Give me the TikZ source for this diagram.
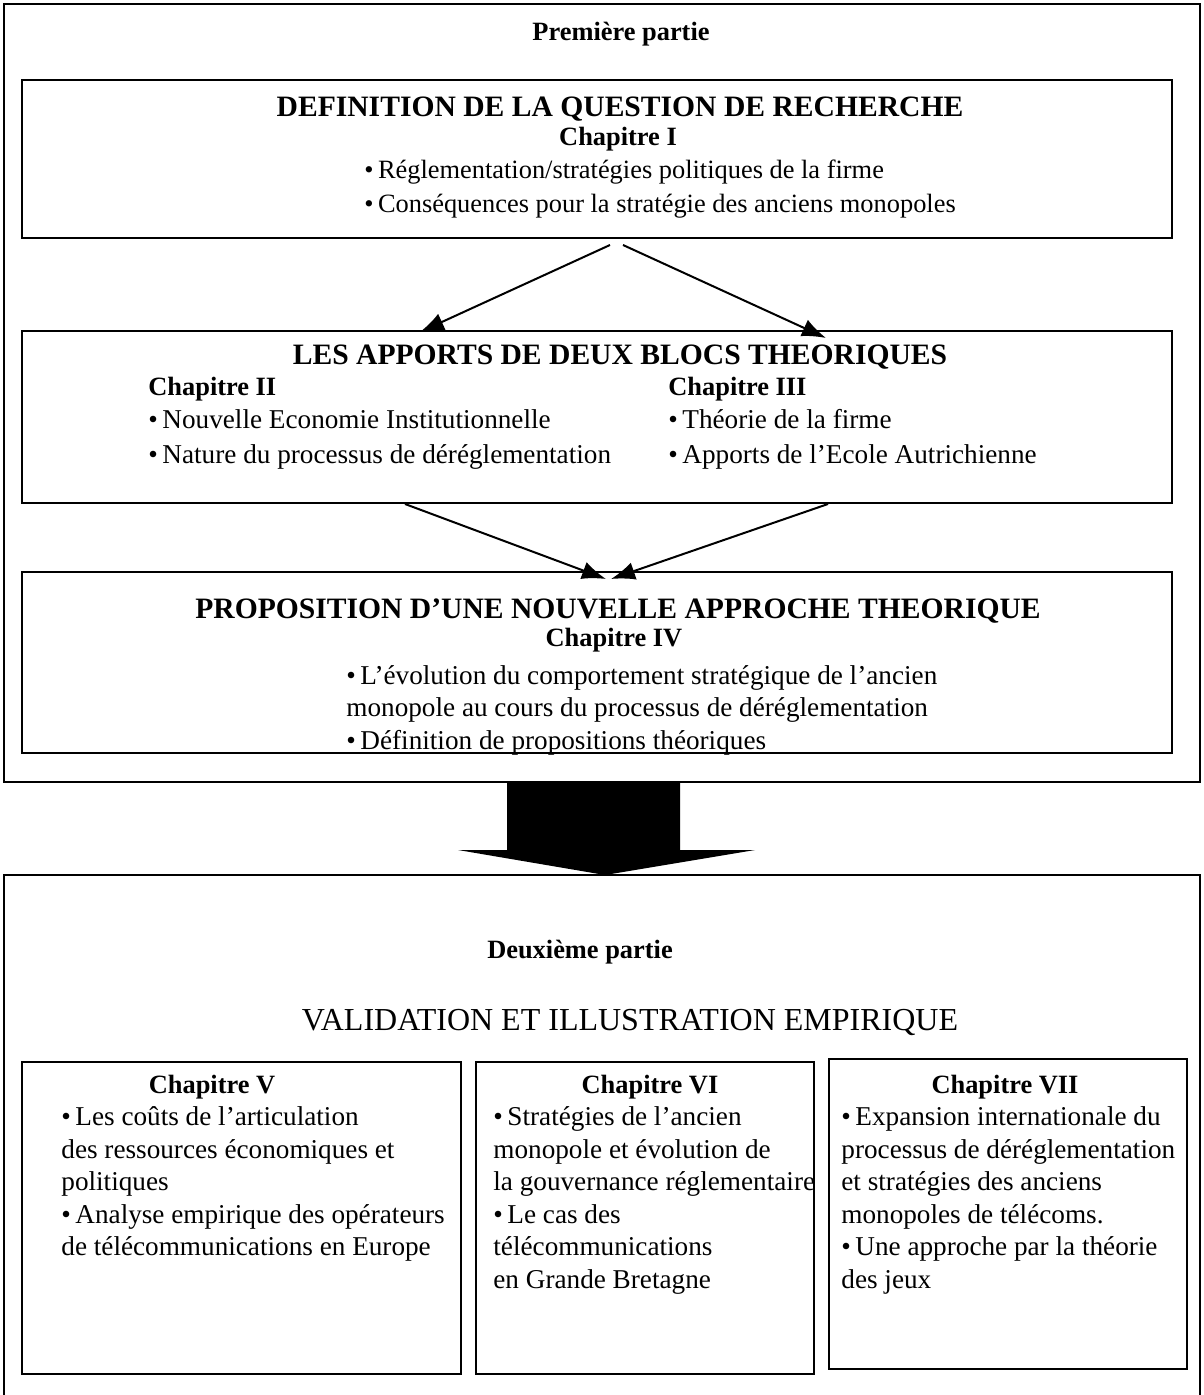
\documentclass[tikz,border=0pt]{standalone}
\usepackage{fontspec}
\setmainfont{Liberation Serif}
\usetikzlibrary{arrows.meta,fit}
\begin{document}
\begin{tikzpicture}[x=0.5pt,y=-0.5pt,
  frame/.style={draw, line width=1pt},
  box/.style={draw, line width=1.4pt, inner sep=0pt},
  bodyA/.style={font=\fontsize{13.2}{16}\selectfont, inner sep=0pt},
  body/.style={font=\fontsize{13.6}{16}\selectfont, inner sep=0pt},
  bodyb/.style={font=\fontsize{13.2}{16}\selectfont\bfseries, inner sep=0pt},
  ttl/.style={font=\fontsize{14.8}{18}\selectfont\bfseries, inner sep=0pt},
  ttlr/.style={font=\fontsize{16}{18}\selectfont, inner sep=0pt},
  arr/.style={line width=1pt, -{Latex[length=12pt,width=9pt]}},
]
\useasboundingbox (0,0) rectangle (1203,1395);

% Outer frames
\node[frame, inner sep=0pt, fit={(4,4) (1200,782)}] (outerA) {};
\draw[line width=1pt] (4,1400) |- (1200,875) -- (1200,1400);
\coordinate (outerB) at (602,875);

% Boxes
\node[box, fit={(22,80) (1172,238)}] (boxA) {};
\node[box, fit={(22,331) (1172,503)}] (boxB) {};
\node[box, fit={(22,572) (1172,753)}] (boxC) {};
\node[box, fit={(22,1062) (461,1374)}] (boxV) {};
\node[box, fit={(476,1062) (814,1374)}] (boxVI) {};
\node[box, fit={(829,1059) (1187,1369)}] (boxVII) {};

% Texts part 1
\node[bodyb, anchor=base] (p1) at (621,41) {Première partie};
\node[ttl, anchor=base] (tA) at (620,117) {DEFINITION DE LA QUESTION DE RECHERCHE};
\node[bodyb, anchor=base] (cI) at (618,146) {Chapitre I};
\node[bodyA, anchor=base west] (a1) at (364,179) {•\,Réglementation/stratégies politiques de la firme};
\node[bodyA, anchor=base west] (a2) at (364,213) {•\,Conséquences pour la stratégie des anciens monopoles};

\node[ttl, anchor=base] (tB) at (620,365) {LES APPORTS DE DEUX BLOCS THEORIQUES};
\node[bodyb, anchor=base west] (cII) at (148,396) {Chapitre II};
\node[bodyb, anchor=base west] (cIII) at (668,396) {Chapitre III};
\node[body, anchor=base west] (b1) at (148,429) {•\,Nouvelle Economie Institutionnelle};
\node[body, anchor=base west] (b2) at (148,463) {•\,Nature du processus de déréglementation};
\node[body, anchor=base west] (b3) at (668,429) {•\,Théorie de la firme};
\node[body, anchor=base west] (b4) at (668,463) {•\,Apports de l’Ecole Autrichienne};

\node[ttl, anchor=base] (tC) at (618,618) {PROPOSITION D’UNE NOUVELLE APPROCHE THEORIQUE};
\node[bodyb, anchor=base] (cIV) at (614,646) {Chapitre IV};
\node[body, anchor=base west] (c1) at (346,684) {•\,L’évolution du comportement stratégique de l’ancien};
\node[body, anchor=base west] (c2) at (346,716) {monopole au cours du processus de déréglementation};
\node[body, anchor=base west] (c3) at (346,749) {•\,Définition de propositions théoriques};

% Connectors
\coordinate (sA1) at (610,245);
\coordinate (eA1) at (420,332);
\coordinate (sA2) at (623,245);
\coordinate (eA2) at (826,338);
\draw[arr] (sA1) -- (eA1);
\draw[arr] (sA2) -- (eA2);
\coordinate (sB1) at (405,504);
\coordinate (eB1) at (606,579);
\coordinate (sB2) at (828,504);
\coordinate (eB2) at (611,579);
\draw[arr] (sB1) -- (eB1);
\draw[arr] (sB2) -- (eB2);

% Big arrow
\fill (507,783) -- (680,783) -- (680,850) -- (755,850) -- (605,875) -- (458,850) -- (507,850) -- cycle;

% Part 2
\node[bodyb, anchor=base] (p2) at (580,958) {Deuxième partie};
\node[ttlr, anchor=base] (tV) at (630,1030) {VALIDATION ET ILLUSTRATION EMPIRIQUE};

\node[bodyb, anchor=base] (cV) at (212,1093) {Chapitre V};
\node[body, anchor=base west] (v1) at (61,1125) {•\,Les coûts de l’articulation};
\node[body, anchor=base west] (v2) at (61,1158) {des ressources économiques et};
\node[body, anchor=base west] (v3) at (61,1190) {politiques};
\node[body, anchor=base west] (v4) at (61,1223) {•\,Analyse empirique des opérateurs};
\node[body, anchor=base west] (v5) at (61,1255) {de télécommunications en Europe};

\node[bodyb, anchor=base] (cVI) at (650,1093) {Chapitre VI};
\node[body, anchor=base west] (w1) at (493,1125) {•\,Stratégies de l’ancien};
\node[body, anchor=base west] (w2) at (493,1158) {monopole et évolution de};
\node[body, anchor=base west] (w3) at (493,1190) {la gouvernance réglementaire};
\node[body, anchor=base west] (w4) at (493,1223) {•\,Le cas des};
\node[body, anchor=base west] (w5) at (493,1255) {télécommunications};
\node[body, anchor=base west] (w6) at (493,1288) {en Grande Bretagne};

\node[bodyb, anchor=base] (cVII) at (1005,1093) {Chapitre VII};
\node[body, anchor=base west] (x1) at (841,1125) {•\,Expansion internationale du};
\node[body, anchor=base west] (x2) at (841,1158) {processus de déréglementation};
\node[body, anchor=base west] (x3) at (841,1190) {et stratégies des anciens};
\node[body, anchor=base west] (x4) at (841,1223) {monopoles de télécoms.};
\node[body, anchor=base west] (x5) at (841,1255) {•\,Une approche par la théorie};
\node[body, anchor=base west] (x6) at (841,1288) {des jeux};
\end{tikzpicture}
\end{document}
